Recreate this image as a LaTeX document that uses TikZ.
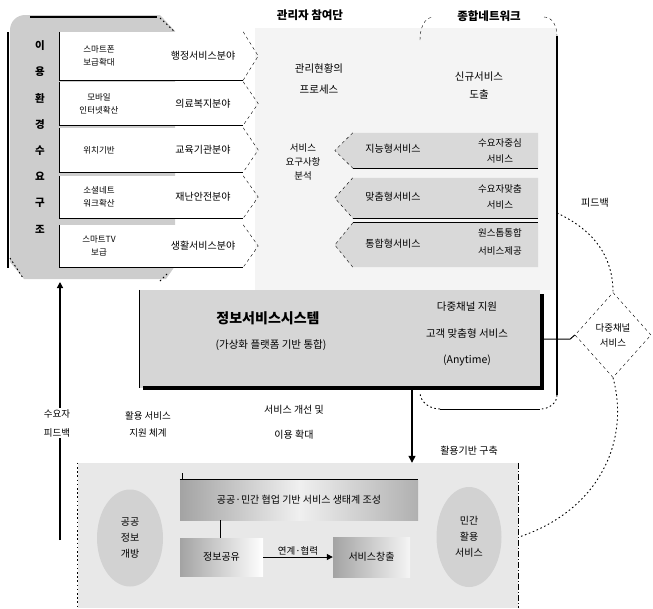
\documentclass[tikz,border=0pt]{standalone}
\usepackage{fontspec}
\setmainfont{Noto Sans CJK KR}
\usetikzlibrary{arrows.meta,shapes.geometric,calc}
\definecolor{panelgray}{HTML}{CDCDCD}
\definecolor{chevgray}{HTML}{D9D9D9}
\definecolor{maingray}{HTML}{D6D6D6}
\definecolor{lowgray}{HTML}{E8E8E8}
\definecolor{ellgray}{HTML}{D2D2D2}
\definecolor{haze}{HTML}{F4F4F4}
\begin{document}
\begin{tikzpicture}[x=1pt,y=-1pt,
  t/.style={font=\fontsize{10}{14}\selectfont, align=center, inner sep=1pt},
  ts/.style={font=\fontsize{8.5}{13}\selectfont, align=center, inner sep=1pt},
  tl/.style={font=\fontsize{11.5}{15}\selectfont\bfseries, align=center, inner sep=1pt},
  rowbox/.style={rectangle, fill=white, minimum width=183pt, inner sep=0pt},
  chevbox/.style={rectangle, minimum width=185pt, inner sep=0pt},
  gradbox/.style={rectangle, inner sep=0pt, font=\fontsize{10}{12}\selectfont},
  blk/.style={line width=1.3pt},
  dots/.style={dash pattern=on 1.6pt off 2.6pt, line width=0.9pt},
  ell/.style={ellipse, fill=ellgray, inner sep=0pt, align=center, font=\fontsize{10}{16}\selectfont}]
\useasboundingbox (0,0) rectangle (653,608);
% light haze background
\fill[haze] (255,28) rectangle (557,290);
% ---------------- left panel
\fill[panelgray] (175,31) -- (175,266) -- (166,279) -- (24,279) -- (10,262) -- (10,30)
  arc[start angle=180, end angle=270, radius=15] -- (160,15) -- cycle;
\draw[line width=2pt] (8,32) -- (8,268);
\draw[line width=1.6pt] (30,17) -- (157,17);
\draw[dots] (160,18) -- (176,33);
\draw[dots] (10,258) -- (23,278);
\draw[dots] (160,281) -- (168,273);
\node[font=\fontsize{10.5}{26.2}\selectfont\bfseries, align=center, inner sep=0pt] (vt) at (40,137) {이\\용\\환\\경\\수\\요\\구\\조};
% rows
\node[rowbox, minimum height=48pt] (r1) at (151.5,56) {};
\node[rowbox, minimum height=43pt] (r2) at (151.5,103.5) {};
\node[rowbox, minimum height=44pt] (r3) at (151.5,150) {};
\node[rowbox, minimum height=42pt] (r4) at (151.5,197) {};
\node[rowbox, minimum height=42pt] (r5) at (151.5,246) {};
\foreach \r in {r1,r2,r3,r4,r5}{
  \draw[blk] (\r.north west) -- (\r.south west) -- (\r.south east);
  \draw[dashed] (\r.north east) -- ($(\r.east)+(15,0)$) -- (\r.south east);
}
\node[ts] (r1a) at (99,56) {스마트폰\\보급확대};
\node[t] (r1b) at (203,56) {행정서비스분야};
\node[ts] (r2a) at (99,103.5) {모바일\\인터넷확산};
\node[t] (r2b) at (203,103.5) {의료복지분야};
\node[ts] (r3a) at (99,150) {위치기반};
\node[t] (r3b) at (203,150) {교육기관분야};
\node[ts] (r4a) at (99,197) {소셜네트\\워크확산};
\node[t] (r4b) at (203,197) {재난안전분야};
\node[ts] (r5a) at (99,246) {스마트TV\\보급};
\node[t] (r5b) at (203,246) {생활서비스분야};
% ---------------- middle labels
\node[tl] (mgt) at (310,15) {관리자 참여단};
\node[t, font=\fontsize{10.5}{21}\selectfont] (proc) at (319,79) {관리현황의\\프로세스};
\node[t, font=\fontsize{9.5}{14}\selectfont] (ctr) at (303,162) {서비스\\요구사항\\분석};
% ---------------- right panel
\node[tl] (net) at (489,16) {종합네트워크};
\draw[dashed] (420,40) to[out=90,in=180] (434,17);
\draw[dashed] (544,17) to[out=0,in=90] (557,36);
\draw[blk] (557,36) -- (557,395);
\draw[dots] (557,395) to[out=-90,in=0] (540,409);
\draw[line width=1pt] (540,409) -- (440,409);
\draw[dots] (440,409) to[out=180,in=-90] (420,392);
\node[t, font=\fontsize{10.5}{18}\selectfont] (newsvc) at (479,86) {신규서비스\\도출};
% chevrons
\node[chevbox, minimum height=35pt] (c1) at (445.5,150.5) {};
\node[chevbox, minimum height=40pt] (c2) at (445.5,198) {};
\node[chevbox, minimum height=44pt] (c3) at (445.5,245) {};
\foreach \c in {c1,c2,c3}{
  \fill[chevgray] (\c.north west) -- (\c.north east) -- (\c.south east) -- (\c.south west) -- ($(\c.west)+(-18,0)$) -- cycle;
  \draw[dashed] (\c.north west) -- ($(\c.west)+(-18,0)$) -- (\c.south west);
}
\draw[blk] (c1.south west) -- (c1.south east);
\draw[blk] (c2.south west) -- (c2.south east);
\draw[blk] (c3.north west) -- (c3.north east);
\node[t] (c1a) at (393,149) {지능형서비스};
\node[t, font=\fontsize{9.5}{16.5}\selectfont] (c1b) at (500,151) {수요자중심\\서비스};
\node[t] (c2a) at (393,197) {맞춤형서비스};
\node[t, font=\fontsize{9.5}{16.5}\selectfont] (c2b) at (500,197) {수요자맞춤\\서비스};
\node[t] (c3a) at (393,244) {통합형서비스};
\node[t, font=\fontsize{9.5}{18}\selectfont] (c3b) at (500,242) {원스톱통합\\서비스제공};
% ---------------- main box
\node[rectangle, fill=maingray, minimum width=400pt, minimum height=98pt, inner sep=0pt] (mainbox) at (340,339) {};
\draw[line width=1pt] (mainbox.north west) -- (mainbox.south west);
\draw[line width=3.5pt] ($(mainbox.south west)+(3,0)$) -- ($(mainbox.south east)+(2,0)$) -- ($(mainbox.north east)+(2,4)$);
\node[font=\fontsize{14}{16}\selectfont\bfseries, inner sep=1pt] (mt1) at (268,318) {정보서비스시스템};
\node[font=\fontsize{10.5}{12}\selectfont, inner sep=1pt] (mt2) at (271,345) {(가상화 플랫폼 기반 통합)};
\node[t, font=\fontsize{10.5}{26.5}\selectfont] (mt3) at (467,334) {다중채널 지원\\고객 맞춤형 서비스\\(Anytime)};
% ---------------- diamond and feedback
\node[diamond, draw, dashed, minimum width=76pt, minimum height=85pt, inner sep=0pt, align=center, font=\fontsize{9.5}{15}\selectfont] (dia) at (613,335) {다중채널\\서비스};
\draw[line width=1pt] (mainbox.east) -- ++(30,0) -- (dia.west);
\node[t] (fbr) at (595,203) {피드백};
\draw[dots] (557,213) to[out=-25,in=90] (dia.north);
\draw[dots] (dia.south) .. controls (630,440) and (600,510) .. (519,537);
% ---------------- below main box
\node[t, font=\fontsize{10}{25}\selectfont] (improve) at (294,422) {서비스 개선 및\\이용 확대};
\coordinate (ax) at (412,0);
\coordinate (vx) at (220,0);
\coordinate (lx) at (60,0);
\node[rectangle, fill=lowgray, minimum width=440pt, minimum height=145pt, inner sep=0pt] (bp) at (298,535.5) {};
\draw[dots] (bp.north west) -- (bp.south west);
\draw[dash pattern=on 6pt off 2pt on 1pt off 2pt, line width=1pt] (bp.north east) -- (bp.south east);
\draw[blk, -{Triangle[length=7pt,width=7pt]}] (mainbox.south -| ax) -- (bp.north -| ax);
\node[t] (build) at (469,451) {활용기반 구축};
\node[t, font=\fontsize{9.5}{19}\selectfont] (fbl) at (57,423) {수요자\\피드백};
\coordinate (lbot) at (60,540);
\draw[line width=1.2pt] (lbot) -- (fbl.south -| lx);
\draw[line width=1.2pt, -{Triangle[length=6pt,width=6pt]}] (fbl.north -| lx) -- (60,282);
\node[t, font=\fontsize{9.5}{17}\selectfont] (support) at (148,424) {활용 서비스\\지원 체계};
% bottom content
\node[ell, minimum width=66pt, minimum height=97pt] (el) at (130,538) {공공\\정보\\개방};
\node[ell, minimum width=65pt, minimum height=100pt] (er) at (469,537) {민간\\활용\\서비스};
\node[gradbox, left color=gray!72, right color=gray!62, middle color=gray!12, minimum width=238pt, minimum height=40pt] (tb) at (299,500) {공공·민간 협업 기반 서비스 생태계 조성};
\draw[blk] (tb.north west) -- (tb.north east);
\draw[blk] ($(tb.north west)+(3,0)$) -- ++(0,-7);
\node[gradbox, left color=gray!72, right color=white, minimum width=83pt, minimum height=38pt] (lb) at (221.5,557) {정보공유};
\node[gradbox, left color=gray!72, right color=gray!8, minimum width=77pt, minimum height=40pt] (rb) at (371.5,557) {서비스창출};
\draw[line width=1pt] (tb.south -| vx) -- (lb.north -| vx);
\draw[line width=1pt, -{Triangle[length=6pt,width=6pt]}] (lb.east) -- (rb.west);
\node[t, font=\fontsize{9.5}{11}\selectfont, above=1pt] (coop) at ($(lb.east)!0.5!(rb.west)$) {연계·협력};
\end{tikzpicture}
\end{document}
